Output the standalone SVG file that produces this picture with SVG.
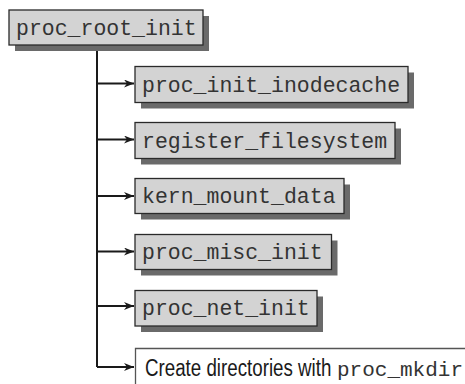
<svg xmlns="http://www.w3.org/2000/svg" width="465" height="384" viewBox="0 0 465 384">
<style>
.sh{fill:#6a6a6a}
.bx{fill:#d3d3d3;stroke:#2a2a2a;stroke-width:1.3}
.mono{font-family:"Liberation Mono","Courier New",monospace;font-size:21.5px;fill:#333333}
.sans{font-family:"Liberation Sans",Arial,sans-serif;font-size:23px;fill:#1a1a1a}
.ln{stroke:#1a1a1a;stroke-width:2;fill:none}
</style>
<defs>
<marker id="ah" markerWidth="10" markerHeight="8" refX="10" refY="4" orient="auto" markerUnits="userSpaceOnUse">
<path d="M0,0 L10,4 L0,8 L3,4 Z" fill="#1a1a1a"/>
</marker>
</defs>
<rect width="465" height="384" fill="#ffffff"/>
<g id="connectors">
<path class="ln" d="M97,45 V367"/>
<path class="ln" d="M97,83.5 H134" marker-end="url(#ah)"/>
<path class="ln" d="M97,139.5 H134" marker-end="url(#ah)"/>
<path class="ln" d="M97,196 H134" marker-end="url(#ah)"/>
<path class="ln" d="M97,251.5 H134" marker-end="url(#ah)"/>
<path class="ln" d="M97,306 H134" marker-end="url(#ah)"/>
<path class="ln" d="M97,367 H134" marker-end="url(#ah)"/>
</g>
<g id="proc_root_init">
<rect class="sh" x="15" y="16" width="194" height="35"/>
<rect class="bx" x="9" y="10" width="194" height="35"/>
<text class="mono" x="16" y="35">proc_root_init</text>
</g>
<g id="proc_init_inodecache">
<rect class="sh" x="141" y="72.5" width="273" height="36"/>
<rect class="bx" x="135" y="66.5" width="273" height="36"/>
<text class="mono" x="142" y="91.5">proc_init_inodecache</text>
</g>
<g id="register_filesystem">
<rect class="sh" x="141" y="128.5" width="260" height="36"/>
<rect class="bx" x="135" y="122.5" width="260" height="36"/>
<text class="mono" x="142" y="147.5">register_filesystem</text>
</g>
<g id="kern_mount_data">
<rect class="sh" x="141" y="184.5" width="209" height="35"/>
<rect class="bx" x="135" y="178.5" width="209" height="35"/>
<text class="mono" x="142" y="203">kern_mount_data</text>
</g>
<g id="proc_misc_init">
<rect class="sh" x="141" y="240.5" width="196.5" height="35"/>
<rect class="bx" x="135" y="234.5" width="196.5" height="35"/>
<text class="mono" x="142" y="259">proc_misc_init</text>
</g>
<g id="proc_net_init">
<rect class="sh" x="141" y="296.5" width="182" height="35.5"/>
<rect class="bx" x="135" y="290.5" width="182" height="35.5"/>
<text class="mono" x="142" y="315">proc_net_init</text>
</g>
<g id="create_directories">
<path d="M135.5,384 V348.5 H465" fill="#ffffff" stroke="#555555" stroke-width="1.3"/>
<text class="sans" transform="translate(145,376) scale(0.815,1)" x="0" y="0">Create directories with</text>
<text class="mono" x="337" y="376" style="font-size:21px">proc_mkdir</text>
</g>
</svg>
